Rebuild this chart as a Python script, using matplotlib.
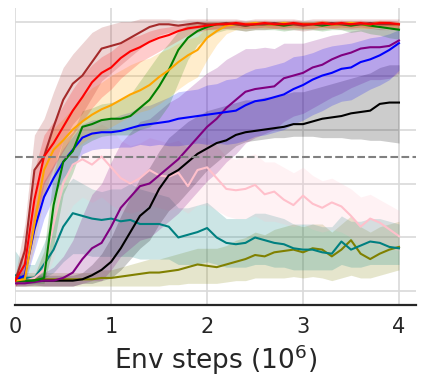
import numpy as np
import matplotlib
matplotlib.use("Agg")
import matplotlib.pyplot as plt

# Env steps (in millions), sampled every 0.1
steps = [round(0.1 * i, 1) for i in range(41)]

# mean curves
red = [0.04, 0.10, 0.34, 0.50, 0.55, 0.61, 0.67, 0.72, 0.775, 0.81, 0.83, 0.865, 0.89, 0.905, 0.925, 0.94, 0.95, 0.965, 0.975, 0.98,
       0.985, 0.99, 0.99, 0.995, 0.99, 0.99, 0.995, 0.99, 0.99, 0.995, 0.99, 0.99, 0.995, 0.99, 0.995, 0.99, 0.995, 0.99, 0.995, 0.995, 0.99]
red_lo = [0.02, 0.05, 0.22, 0.40, 0.46, 0.52, 0.58, 0.63, 0.68, 0.72, 0.75, 0.79, 0.82, 0.85, 0.87, 0.89, 0.91, 0.93, 0.95, 0.96,
          0.97, 0.975, 0.975, 0.98, 0.975, 0.975, 0.98, 0.975, 0.975, 0.98, 0.975, 0.975, 0.98, 0.975, 0.98, 0.975, 0.98, 0.975, 0.98, 0.98, 0.975]
red_hi = [0.06, 0.18, 0.45, 0.58, 0.63, 0.69, 0.75, 0.80, 0.84, 0.87, 0.89, 0.92, 0.94, 0.95, 0.965, 0.975, 0.98, 0.99, 0.995, 1.0,
          1.0, 1.0, 1.0, 1.005, 1.0, 1.0, 1.005, 1.0, 1.0, 1.005, 1.0, 1.0, 1.005, 1.0, 1.005, 1.0, 1.005, 1.0, 1.005, 1.005, 1.0]

brown = [0.04, 0.15, 0.45, 0.50, 0.61, 0.71, 0.77, 0.80, 0.85, 0.90, 0.91, 0.92, 0.94, 0.96, 0.98, 0.99, 0.99, 0.985, 0.99, 0.995,
         0.99, 0.99, 0.995, 0.99, 0.985, 0.99, 0.99, 0.995, 0.99, 0.99, 0.985, 0.99, 0.99, 0.995, 0.99, 0.99, 0.99, 0.995, 0.99, 0.99, 0.99]
brown_lo = [0.02, 0.06, 0.28, 0.36, 0.46, 0.56, 0.62, 0.66, 0.72, 0.78, 0.81, 0.84, 0.87, 0.90, 0.93, 0.95, 0.96, 0.965, 0.97, 0.975,
            0.97, 0.97, 0.975, 0.97, 0.965, 0.97, 0.97, 0.975, 0.97, 0.97, 0.965, 0.97, 0.97, 0.975, 0.97, 0.97, 0.97, 0.975, 0.97, 0.97, 0.97]
brown_hi = [0.06, 0.25, 0.58, 0.64, 0.74, 0.83, 0.88, 0.92, 0.96, 0.98, 0.99, 1.0, 1.0, 1.01, 1.01, 1.01, 1.01, 1.005, 1.01, 1.01,
            1.01, 1.01, 1.01, 1.01, 1.005, 1.01, 1.01, 1.01, 1.01, 1.01, 1.005, 1.01, 1.01, 1.01, 1.01, 1.01, 1.01, 1.01, 1.01, 1.01, 1.01]

orange = [0.04, 0.045, 0.25, 0.45, 0.525, 0.56, 0.60, 0.63, 0.655, 0.675, 0.69, 0.71, 0.73, 0.745, 0.765, 0.795, 0.82, 0.85, 0.875, 0.895,
          0.94, 0.965, 0.985, 0.99, 0.99, 0.995, 0.99, 0.99, 0.995, 0.99, 0.99, 0.99, 0.995, 0.99, 0.99, 0.995, 0.99, 0.99, 0.995, 0.99, 0.99]
orange_lo = [0.03, 0.035, 0.17, 0.35, 0.435, 0.48, 0.52, 0.55, 0.575, 0.595, 0.61, 0.63, 0.65, 0.665, 0.675, 0.695, 0.72, 0.75, 0.775, 0.795,
             0.86, 0.915, 0.955, 0.97, 0.975, 0.98, 0.975, 0.975, 0.98, 0.975, 0.975, 0.975, 0.98, 0.975, 0.975, 0.98, 0.975, 0.975, 0.98, 0.975, 0.975]
orange_hi = [0.05, 0.065, 0.33, 0.53, 0.605, 0.64, 0.68, 0.72, 0.755, 0.775, 0.80, 0.82, 0.84, 0.855, 0.865, 0.885, 0.90, 0.92, 0.935, 0.945,
             0.98, 0.99, 1.0, 1.0, 1.0, 1.005, 1.0, 1.0, 1.005, 1.0, 1.0, 1.0, 1.005, 1.0, 1.0, 1.005, 1.0, 1.0, 1.005, 1.0, 1.0]

green = [0.04, 0.04, 0.04, 0.05, 0.32, 0.48, 0.52, 0.61, 0.62, 0.635, 0.64, 0.64, 0.65, 0.68, 0.71, 0.76, 0.82, 0.895, 0.94, 0.965,
         0.98, 0.99, 0.99, 0.99, 0.985, 0.99, 0.99, 0.99, 0.985, 0.99, 0.99, 0.99, 0.985, 0.99, 0.99, 0.985, 0.99, 0.985, 0.98, 0.975, 0.97]
green_lo = [0.03, 0.03, 0.03, 0.03, 0.17, 0.36, 0.44, 0.54, 0.56, 0.575, 0.58, 0.58, 0.58, 0.60, 0.61, 0.64, 0.69, 0.775, 0.86, 0.915,
            0.94, 0.96, 0.97, 0.97, 0.965, 0.97, 0.97, 0.97, 0.965, 0.97, 0.97, 0.97, 0.965, 0.97, 0.97, 0.96, 0.965, 0.955, 0.95, 0.94, 0.935]
green_hi = [0.05, 0.05, 0.06, 0.15, 0.44, 0.56, 0.59, 0.67, 0.68, 0.695, 0.70, 0.71, 0.73, 0.78, 0.83, 0.88, 0.92, 0.965, 0.99, 0.995,
            1.0, 1.0, 1.0, 1.0, 0.995, 1.0, 1.0, 1.0, 0.995, 1.0, 1.0, 1.0, 0.995, 1.0, 1.0, 0.995, 1.0, 0.995, 0.995, 0.99, 0.99]

blue = [0.04, 0.06, 0.23, 0.35, 0.42, 0.48, 0.525, 0.57, 0.585, 0.59, 0.59, 0.595, 0.605, 0.615, 0.62, 0.625, 0.63, 0.64, 0.645, 0.65,
        0.655, 0.66, 0.665, 0.67, 0.69, 0.705, 0.71, 0.72, 0.73, 0.75, 0.765, 0.785, 0.80, 0.81, 0.825, 0.83, 0.85, 0.86, 0.875, 0.895, 0.92]
blue_lo = [0.03, 0.03, 0.15, 0.27, 0.35, 0.42, 0.465, 0.51, 0.525, 0.53, 0.53, 0.535, 0.535, 0.545, 0.54, 0.545, 0.54, 0.54, 0.545, 0.55,
           0.545, 0.55, 0.545, 0.55, 0.56, 0.575, 0.58, 0.59, 0.60, 0.62, 0.635, 0.655, 0.67, 0.69, 0.705, 0.71, 0.73, 0.75, 0.765, 0.785, 0.82]
blue_hi = [0.05, 0.10, 0.30, 0.41, 0.47, 0.53, 0.575, 0.62, 0.635, 0.64, 0.64, 0.655, 0.665, 0.685, 0.69, 0.705, 0.72, 0.74, 0.745, 0.75,
           0.765, 0.77, 0.785, 0.79, 0.81, 0.825, 0.83, 0.84, 0.85, 0.87, 0.875, 0.885, 0.90, 0.91, 0.915, 0.92, 0.93, 0.94, 0.945, 0.955, 0.97]

purple = [0.03, 0.03, 0.035, 0.04, 0.04, 0.05, 0.07, 0.12, 0.16, 0.18, 0.24, 0.31, 0.35, 0.39, 0.40, 0.43, 0.46, 0.49, 0.53, 0.57,
          0.61, 0.64, 0.68, 0.71, 0.74, 0.75, 0.755, 0.76, 0.79, 0.80, 0.81, 0.83, 0.84, 0.86, 0.875, 0.885, 0.90, 0.905, 0.905, 0.91, 0.93]
purple_lo = [0.02, 0.02, 0.025, 0.02, 0.02, 0.02, 0.02, 0.03, 0.04, 0.04, 0.08, 0.13, 0.16, 0.19, 0.20, 0.23, 0.26, 0.29, 0.33, 0.37,
             0.41, 0.44, 0.48, 0.51, 0.55, 0.57, 0.585, 0.60, 0.63, 0.65, 0.66, 0.68, 0.70, 0.72, 0.735, 0.755, 0.77, 0.785, 0.785, 0.79, 0.81]
purple_hi = [0.04, 0.04, 0.055, 0.07, 0.09, 0.13, 0.19, 0.28, 0.36, 0.40, 0.48, 0.55, 0.59, 0.63, 0.64, 0.67, 0.70, 0.72, 0.75, 0.78,
             0.81, 0.83, 0.86, 0.88, 0.90, 0.90, 0.905, 0.90, 0.92, 0.92, 0.92, 0.93, 0.94, 0.95, 0.955, 0.965, 0.97, 0.975, 0.975, 0.97, 0.98]

black = [0.04, 0.04, 0.04, 0.04, 0.04, 0.04, 0.04, 0.045, 0.06, 0.08, 0.11, 0.16, 0.22, 0.28, 0.31, 0.38, 0.43, 0.45, 0.48, 0.51,
         0.53, 0.55, 0.56, 0.58, 0.59, 0.595, 0.60, 0.605, 0.61, 0.62, 0.62, 0.63, 0.64, 0.645, 0.65, 0.66, 0.665, 0.67, 0.695, 0.70, 0.70]
black_lo = [0.02, 0.02, 0.02, 0.02, 0.02, 0.02, 0.02, 0.03, 0.03, 0.04, 0.05, 0.08, 0.12, 0.16, 0.19, 0.25, 0.30, 0.33, 0.37, 0.41,
            0.45, 0.48, 0.51, 0.54, 0.555, 0.56, 0.565, 0.57, 0.57, 0.575, 0.575, 0.575, 0.57, 0.57, 0.57, 0.565, 0.565, 0.56, 0.56, 0.555, 0.55]
black_hi = [0.06, 0.06, 0.06, 0.06, 0.06, 0.06, 0.06, 0.07, 0.10, 0.14, 0.20, 0.28, 0.35, 0.42, 0.46, 0.52, 0.57, 0.60, 0.63, 0.65,
            0.67, 0.68, 0.69, 0.70, 0.71, 0.71, 0.72, 0.72, 0.73, 0.74, 0.74, 0.75, 0.76, 0.77, 0.78, 0.79, 0.80, 0.81, 0.83, 0.84, 0.84]

pink = [0.04, 0.04, 0.05, 0.08, 0.25, 0.40, 0.47, 0.49, 0.47, 0.50, 0.46, 0.42, 0.40, 0.42, 0.45, 0.43, 0.425, 0.44, 0.39, 0.45,
        0.46, 0.42, 0.38, 0.375, 0.38, 0.395, 0.36, 0.37, 0.34, 0.32, 0.355, 0.325, 0.31, 0.33, 0.315, 0.28, 0.24, 0.27, 0.255, 0.23, 0.205]
pink_lo = [0.02, 0.02, 0.03, 0.04, 0.12, 0.25, 0.32, 0.35, 0.33, 0.35, 0.32, 0.30, 0.29, 0.30, 0.32, 0.31, 0.30, 0.31, 0.29, 0.32,
           0.32, 0.30, 0.28, 0.27, 0.27, 0.28, 0.26, 0.26, 0.25, 0.24, 0.25, 0.23, 0.22, 0.23, 0.22, 0.20, 0.17, 0.18, 0.17, 0.16, 0.15]
pink_hi = [0.06, 0.06, 0.08, 0.15, 0.38, 0.52, 0.60, 0.62, 0.60, 0.62, 0.60, 0.56, 0.54, 0.55, 0.57, 0.56, 0.55, 0.56, 0.53, 0.57,
           0.57, 0.54, 0.50, 0.49, 0.50, 0.51, 0.48, 0.48, 0.46, 0.44, 0.46, 0.43, 0.41, 0.42, 0.40, 0.38, 0.35, 0.36, 0.34, 0.32, 0.30]

teal = [0.06, 0.05, 0.05, 0.10, 0.155, 0.24, 0.29, 0.28, 0.27, 0.265, 0.27, 0.26, 0.265, 0.25, 0.25, 0.25, 0.24, 0.20, 0.21, 0.22,
        0.235, 0.20, 0.18, 0.175, 0.18, 0.20, 0.19, 0.18, 0.175, 0.16, 0.155, 0.155, 0.145, 0.14, 0.185, 0.155, 0.17, 0.185, 0.18, 0.165, 0.16]
teal_lo = [0.03, 0.03, 0.03, 0.05, 0.07, 0.11, 0.14, 0.14, 0.13, 0.13, 0.13, 0.13, 0.13, 0.12, 0.12, 0.12, 0.12, 0.10, 0.10, 0.10,
           0.11, 0.10, 0.09, 0.09, 0.09, 0.10, 0.10, 0.09, 0.09, 0.08, 0.08, 0.08, 0.08, 0.08, 0.10, 0.09, 0.09, 0.10, 0.10, 0.10, 0.10]
teal_hi = [0.15, 0.10, 0.10, 0.18, 0.28, 0.38, 0.42, 0.40, 0.38, 0.37, 0.38, 0.38, 0.40, 0.38, 0.37, 0.36, 0.35, 0.31, 0.31, 0.32,
           0.33, 0.30, 0.27, 0.27, 0.27, 0.29, 0.29, 0.28, 0.27, 0.25, 0.25, 0.25, 0.24, 0.24, 0.28, 0.26, 0.26, 0.27, 0.27, 0.26, 0.25]

olive = [0.045, 0.045, 0.045, 0.045, 0.045, 0.045, 0.045, 0.045, 0.045, 0.05, 0.05, 0.055, 0.06, 0.065, 0.07, 0.07, 0.075, 0.08, 0.09, 0.10,
         0.095, 0.09, 0.10, 0.11, 0.12, 0.135, 0.13, 0.145, 0.15, 0.155, 0.145, 0.16, 0.155, 0.13, 0.155, 0.19, 0.14, 0.12, 0.14, 0.155, 0.165]
olive_lo = [0.02, 0.02, 0.02, 0.02, 0.02, 0.02, 0.02, 0.02, 0.02, 0.02, 0.02, 0.02, 0.02, 0.02, 0.02, 0.02, 0.025, 0.025, 0.03, 0.03,
            0.03, 0.03, 0.035, 0.04, 0.04, 0.05, 0.05, 0.05, 0.05, 0.055, 0.05, 0.055, 0.05, 0.04, 0.05, 0.06, 0.05, 0.05, 0.06, 0.07, 0.08]
olive_hi = [0.07, 0.07, 0.07, 0.07, 0.07, 0.07, 0.07, 0.07, 0.07, 0.08, 0.08, 0.09, 0.10, 0.11, 0.12, 0.12, 0.13, 0.14, 0.15, 0.16,
            0.16, 0.16, 0.17, 0.19, 0.20, 0.22, 0.21, 0.23, 0.24, 0.25, 0.24, 0.25, 0.25, 0.22, 0.25, 0.28, 0.24, 0.22, 0.24, 0.25, 0.26]

# (color, mean, lower, upper) - drawn back to front
series = [
    ('olive', olive, olive_lo, olive_hi),
    ('teal', teal, teal_lo, teal_hi),
    ('pink', pink, pink_lo, pink_hi),
    ('black', black, black_lo, black_hi),
    ('purple', purple, purple_lo, purple_hi),
    ('blue', blue, blue_lo, blue_hi),
    ('green', green, green_lo, green_hi),
    ('orange', orange, orange_lo, orange_hi),
    ('brown', brown, brown_lo, brown_hi),
    ('red', red, red_lo, red_hi),
]

fig = plt.figure(figsize=(4.23, 3.86), dpi=100)
ax = fig.add_axes([0.036, 0.21, 0.948, 0.769])

# shaded bands first, then the mean lines on top
for color, mean, lo, hi in series:
    ax.fill_between(steps, lo, hi, color=color, alpha=0.2, linewidth=0)
for color, mean, lo, hi in series:
    ax.plot(steps, mean, color=color, linewidth=1.5)

# dashed reference line
ax.axhline(0.5, color='gray', linestyle='--', linewidth=1.5)

ax.set_xlim(0, 4.18)
ax.set_ylim(-0.05, 1.05)
ax.set_xticks([0, 1, 2, 3, 4])
ax.set_yticks([0, 0.2, 0.4, 0.6, 0.8, 1.0])
ax.set_yticklabels([])
ax.grid(True, color='#d9d9d9', linewidth=1.2)
ax.set_axisbelow(True)
ax.tick_params(axis='both', length=0, labelsize=15, colors='#262626', pad=9)
for side in ['top', 'right', 'left']:
    ax.spines[side].set_visible(False)
ax.spines['bottom'].set_color('#262626')
ax.spines['bottom'].set_linewidth(1.6)
ax.set_xlabel('Env steps ($10^6$)', fontsize=19, color='#262626', labelpad=4)

plt.savefig('out.png', dpi=100)
